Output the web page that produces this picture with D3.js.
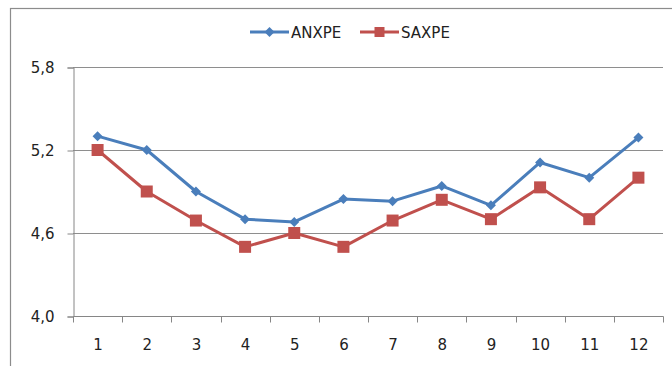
<!DOCTYPE html>
<html>
<head>
<meta charset="utf-8">
<script src="https://cdn.jsdelivr.net/npm/d3@7/dist/d3.min.js"></script>
<style>
  html, body { margin: 0; padding: 0; background: #fff; }
  svg { display: block; }
  text { font-family: "DejaVu Sans", sans-serif; font-size: 15px; fill: #222; }
</style>
</head>
<body>
<svg id="chart" width="672" height="366"></svg>
<script>
const categories = ["1","2","3","4","5","6","7","8","9","10","11","12"];
const anxpe = [5.30, 5.20, 4.90, 4.70, 4.68, 4.845, 4.83, 4.94, 4.80, 5.11, 5.00, 5.29];
const saxpe = [5.20, 4.90, 4.69, 4.50, 4.60, 4.50, 4.69, 4.84, 4.70, 4.93, 4.70, 5.00];
const yTicks = [4.0, 4.6, 5.2, 5.8];
const yTickLabels = ["4,0", "4,6", "5,2", "5,8"];
const seriesNames = ["ANXPE", "SAXPE"];
const colors = ["#4A7EBB", "#C0504D"];

(function () {
const svg = d3.select("#chart");
const pLeft = 73, pRight = 663, pTop = 67, pBottom = 316;

// outer chart border
svg.append("rect").attr("x", 10.5).attr("y", 8.5).attr("width", 700).attr("height", 400)
  .attr("fill", "none").attr("stroke", "#8c8c8c").attr("stroke-width", 1.2);

const x = d3.scaleBand().domain(categories).range([pLeft, pRight]).padding(0);
const y = d3.scaleLinear().domain([4.0, 5.8]).range([pBottom, pTop]);

// gridlines
svg.append("g").selectAll("line").data(yTicks.slice(1)).join("line")
  .attr("x1", pLeft).attr("x2", pRight)
  .attr("y1", d => Math.round(y(d)) + 0.5).attr("y2", d => Math.round(y(d)) + 0.5)
  .attr("stroke", "#8e8e8e").attr("stroke-width", 1);

// y axis
const yAxis = d3.axisLeft(y).tickValues(yTicks).tickFormat((d, i) => yTickLabels[i]).tickSize(6).tickPadding(13);
const gy = svg.append("g").attr("transform", `translate(${pLeft + 0.5},0.5)`).call(yAxis);
gy.select(".domain").attr("stroke", "#868686");
gy.selectAll(".tick line").attr("stroke", "#868686");
gy.selectAll(".tick text").style("font-family", "DejaVu Sans").style("font-size", "15px").attr("fill", "#222");

// x axis
const gx = svg.append("g").attr("transform", `translate(0.5,${pBottom + 0.5})`);
gx.append("line").attr("x1", pLeft).attr("x2", pRight).attr("y1", 0).attr("y2", 0).attr("stroke", "#868686");
const bounds = categories.map(c => x(c)).concat([x(categories[categories.length - 1]) + x.bandwidth()]);
gx.selectAll("line.tk").data(bounds).join("line").attr("class", "tk")
  .attr("x1", d => Math.round(d)).attr("x2", d => Math.round(d)).attr("y1", 0).attr("y2", 6)
  .attr("stroke", "#868686");
gx.selectAll("text").data(categories).join("text")
  .attr("x", d => x(d) + x.bandwidth() / 2).attr("y", 33)
  .attr("text-anchor", "middle").text(d => d);

// series
const line = d3.line().x((d, i) => x(categories[i]) + x.bandwidth() / 2).y(d => y(d));
const data = [anxpe, saxpe];
data.forEach((vals, s) => {
  svg.append("path").datum(vals).attr("d", line).attr("fill", "none")
    .attr("stroke", colors[s]).attr("stroke-width", 3).attr("stroke-linejoin", "round");
});
const diamond = d3.symbol().type(d3.symbolDiamond2).size(64);
svg.append("g").selectAll("path").data(anxpe).join("path")
  .attr("transform", (d, i) => `translate(${x(categories[i]) + x.bandwidth() / 2},${y(d)})`)
  .attr("d", diamond).attr("fill", colors[0]);
const sq = 12;
svg.append("g").selectAll("rect").data(saxpe).join("rect")
  .attr("x", (d, i) => x(categories[i]) + x.bandwidth() / 2 - sq / 2)
  .attr("y", d => y(d) - sq / 2).attr("width", sq).attr("height", sq)
  .attr("fill", colors[1]);

// legend
const lg = svg.append("g");
const legendItems = [
  { x0: 250, x1: 289, tx: 291 },
  { x0: 360, x1: 399, tx: 401 }
];
legendItems.forEach((it, s) => {
  lg.append("line").attr("x1", it.x0).attr("x2", it.x1).attr("y1", 32).attr("y2", 32)
    .attr("stroke", colors[s]).attr("stroke-width", 3);
  const cx = (it.x0 + it.x1) / 2;
  if (s === 0) {
    lg.append("path").attr("transform", `translate(${cx},32)`).attr("d", diamond).attr("fill", colors[0]);
  } else {
    lg.append("rect").attr("x", cx - 5).attr("y", 27).attr("width", 10).attr("height", 10).attr("fill", colors[1]);
  }
  lg.append("text").attr("x", it.tx).attr("y", 37.5).text(seriesNames[s]);
});
})();
</script>
</body>
</html>
